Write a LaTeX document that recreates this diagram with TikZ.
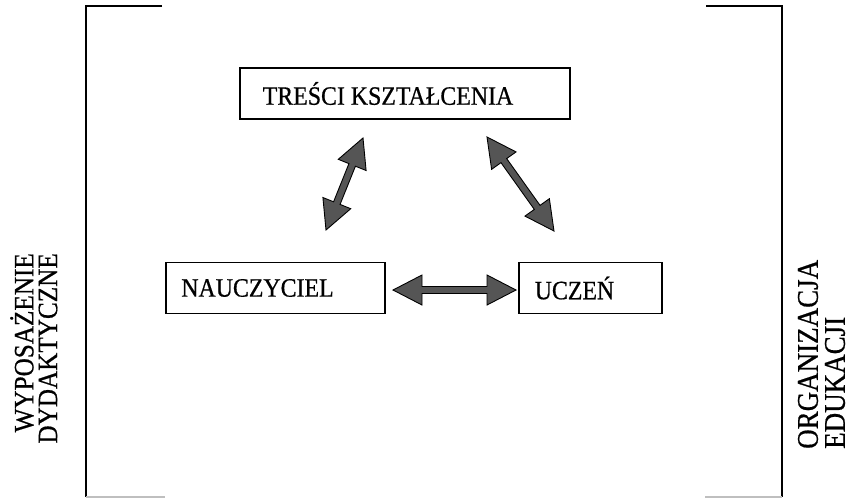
\documentclass[tikz,border=0pt]{standalone}
\usepackage{fontspec}
\setmainfont{Liberation Serif}
\newfontfamily\scanfont[FakeStretch=0.9,FakeBold=0.6]{Liberation Serif}
\usetikzlibrary{calc}
\definecolor{arrowgray}{HTML}{555555}
\tikzset{
  box/.style={draw=black, line width=1.5pt, minimum height=51pt, inner sep=0pt, font=\scanfont\fontsize{26.5}{28}\selectfont},
  sidelabel/.style={rotate=90, inner sep=0pt, font=\scanfont\fontsize{28}{30}\selectfont},
  sidelabelr/.style={sidelabel, font=\scanfont\fontsize{30}{32}\selectfont},
  frame/.style={line width=1.8pt, black},
  faint/.style={line width=1.2pt, black!25},
  fatarrow/.style={draw=black, fill=arrowgray, line width=0.9pt, line join=miter}
}
% double-headed fat arrow between two named coordinates
\newcommand\fatdbl[2]{%
  \path[fatarrow] (#1)
   -- ($(#1)!29pt!(#2)!15pt!90:(#2)$)
   -- ($(#1)!29pt!(#2)!3.5pt!90:(#2)$)
   -- ($(#2)!29pt!(#1)!3.5pt!-90:(#1)$)
   -- ($(#2)!29pt!(#1)!15pt!-90:(#1)$)
   -- (#2)
   -- ($(#2)!29pt!(#1)!15pt!90:(#1)$)
   -- ($(#2)!29pt!(#1)!3.5pt!90:(#1)$)
   -- ($(#1)!29pt!(#2)!3.5pt!-90:(#2)$)
   -- ($(#1)!29pt!(#2)!15pt!-90:(#2)$)
   -- cycle;}
\begin{document}
\begin{tikzpicture}[x=1pt,y=-1pt]
\useasboundingbox (0,0) rectangle (854,499);
% frame
\coordinate (fl1) at (162,6);
\coordinate (fl2) at (86,6);
\coordinate (fl3) at (86,497);
\coordinate (fr1) at (706,6);
\coordinate (fr2) at (782,6);
\coordinate (fr3) at (782,497);
\coordinate (bl) at (165,497);
\coordinate (br) at (705,497);
\draw[frame] (fl1) -- (fl2) -- (fl3);
\draw[frame] (fr1) -- (fr2) -- (fr3);
\draw[faint] (fl3) -- (bl);
\draw[faint] (br) -- (fr3);
% boxes
\node[box, minimum width=330pt] (tresci) at (405,93.5) {TREŚCI KSZTAŁCENIA\hspace*{34pt}};
\node[box, minimum width=219pt] (naucz) at (275.5,288) {NAUCZYCIEL\hspace*{36pt}};
\node[box, minimum width=143pt] (uczen) at (590.5,288) {UCZEŃ\hspace*{32pt}};
% arrow tips
\coordinate (a1) at (363,138);
\coordinate (a2) at (326,230);
\coordinate (b1) at (487,137);
\coordinate (b2) at (554,231);
\coordinate (c1) at (393,290);
\coordinate (c2) at (516,290);
\fatdbl{a1}{a2}
\fatdbl{b1}{b2}
\fatdbl{c1}{c2}
% side labels
\node[sidelabel, anchor=east] (wyp) at (22,253) {WYPOSAŻENIE};
\node[sidelabel, anchor=east] (dyd) at (48,253) {DYDAKTYCZNE};
\node[sidelabelr, anchor=west] (org) at (808,449) {ORGANIZACJA};
\node[sidelabelr, anchor=west] (edu) at (835,449) {EDUKACJI};
\end{tikzpicture}
\end{document}
